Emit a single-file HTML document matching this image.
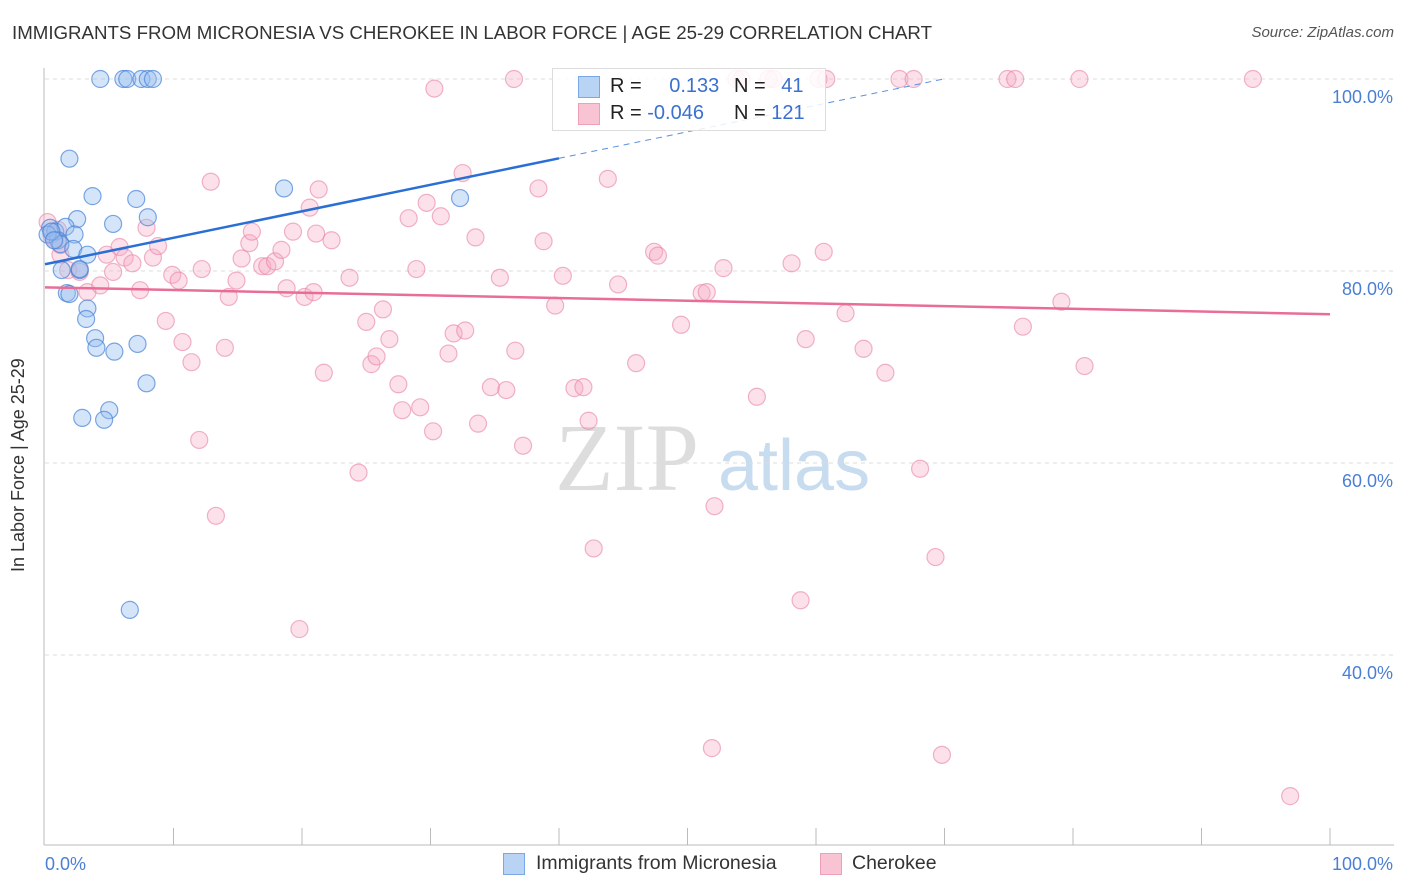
<!DOCTYPE html>
<html><head><meta charset="utf-8"><style>
body{margin:0;background:#fff;font-family:"Liberation Sans",sans-serif;}
#wrap{position:relative;width:1406px;height:892px;overflow:hidden;}
.t{position:absolute;white-space:nowrap;}
</style></head><body>
<div id="wrap">
<div class="t" style="left:12px;top:22px;font-size:18.7px;color:#333;">IMMIGRANTS FROM MICRONESIA VS CHEROKEE IN LABOR FORCE | AGE 25-29 CORRELATION CHART</div>
<div class="t" style="right:12px;top:24px;font-size:15px;color:#555;font-style:italic;">Source: ZipAtlas.com</div>
<div class="t" style="left:8px;top:572px;font-size:18px;color:#333;transform:rotate(-90deg);transform-origin:0 0;">In Labor Force | Age 25-29</div>
<svg id="svg" width="1406" height="892" style="position:absolute;left:0;top:0"></svg>
</div>
<script>
const blueX=[4.3,6.1,6.4,7.5,8.0,8.4,1.9,3.7,7.1,5.3,8.0,2.5,18.6,32.3,0.4,0.8,1.6,2.3,1.0,1.2,0.2,2.2,3.3,1.3,2.7,1.7,1.9,3.3,3.2,3.9,4.0,5.4,7.2,7.9,2.9,5.0,4.6,6.6,0.5,0.7,2.7];
const blueY=[100,100,100,100,100,100,91.7,87.8,87.5,84.9,85.6,85.4,88.6,87.6,84.5,84.1,84.6,83.8,83.2,82.8,83.8,82.3,81.7,80.1,80.1,77.7,77.6,76.1,75.0,73.0,72.0,71.6,72.4,68.3,64.7,65.5,64.5,44.7,84.1,83.2,80.2];
const pinkX=[0.2,0.8,1.2,1.8,2.7,3.3,4.3,4.8,5.3,5.8,6.2,6.8,7.4,7.9,8.4,8.8,9.4,9.9,10.4,10.7,11.4,12.0,12.2,12.9,13.3,14.0,14.3,14.9,15.3,15.9,16.1,16.9,17.3,17.9,18.4,18.8,19.3,19.8,20.2,20.6,20.9,21.1,21.3,21.7,22.3,23.7,24.4,25.0,25.4,25.8,26.3,26.8,27.5,27.8,28.3,28.9,29.2,29.7,30.2,30.8,31.4,31.8,32.5,32.7,33.5,33.7,34.7,35.4,35.9,36.5,36.6,37.2,38.4,38.8,39.7,40.3,41.2,41.9,42.3,42.7,43.8,44.6,46.0,47.4,47.7,49.5,51.1,51.5,51.9,52.1,52.8,53.8,54.2,55.4,56.3,56.7,58.1,58.8,59.2,60.2,60.6,60.8,62.3,63.7,65.4,66.5,67.6,68.1,69.3,69.8,74.9,75.5,76.1,79.1,80.5,80.9,94.0,96.9,30.3,1.2,0.5,1.0];
const pinkY=[85.1,83.2,81.7,80.1,79.9,77.8,78.5,81.7,79.9,82.5,81.4,80.8,78.0,84.5,81.4,82.6,74.8,79.6,79.0,72.6,70.5,62.4,80.2,89.3,54.5,72.0,77.3,79.0,81.3,82.9,84.1,80.5,80.5,81.0,82.2,78.2,84.1,42.7,77.3,86.6,77.8,83.9,88.5,69.4,83.2,79.3,59.0,74.7,70.3,71.1,76.0,72.9,68.2,65.5,85.5,80.2,65.8,87.1,63.3,85.7,71.4,73.5,90.2,73.8,83.5,64.1,67.9,79.3,67.6,100,71.7,61.8,88.6,83.1,76.4,79.5,67.8,67.9,64.4,51.1,89.6,78.6,70.4,82.0,81.6,74.4,77.7,77.8,30.3,55.5,80.3,100,100,66.9,100,100,80.8,45.7,72.9,100,82.0,100,75.6,71.9,69.4,100,100,59.4,50.2,29.6,100,100,74.2,76.8,100,70.1,100,25.3,99.0,82.7,83.8,84.3];
const yTicks=[100,80,60,40];
const yTickLabels=["100.0%","80.0%","60.0%","40.0%"];
const xTicks=[0,10,20,30,40,50,60,70,80,90,100];
const blueTrend=[80.7,0.276];
const pinkTrend=[78.3,-0.028];

const X=v=>45+v*12.85, Y=v=>1039-v*9.6;
const svg=document.getElementById('svg');const NS='http://www.w3.org/2000/svg';
function mk(tag,attrs,parent){const e=document.createElementNS(NS,tag);for(const k in attrs)e.setAttribute(k,attrs[k]);(parent||svg).appendChild(e);return e;}
let wm=mk('text',{x:555,y:490,'font-size':96,'font-family':'Liberation Serif,serif',fill:'#ddd'});wm.textContent='ZIP';

let wm2=mk('text',{x:718,y:490,'font-size':72,'font-family':'Liberation Sans,sans-serif',fill:'#c8dcf0'});wm2.textContent='atlas';

yTicks.forEach((t,i)=>{
 const g=mk('line',{x1:45,x2:1393,y1:Y(t),y2:Y(t),stroke:'#ddd','stroke-dasharray':'4,4'});
 
 const l=mk('text',{x:1393,y:Y(t)+24,'text-anchor':'end','font-size':18,fill:'#4a7fd4','font-family':'Liberation Sans,sans-serif'});
 l.textContent=yTickLabels[i];
 
});
let ax=mk('line',{x1:44,x2:44,y1:68,y2:845,stroke:'#bbb'});
let bx=mk('line',{x1:44,x2:1394,y1:845,y2:845,stroke:'#bbb'});
xTicks.forEach(t=>{if(t===0)return;const k=mk('line',{x1:X(t),x2:X(t),y1:828,y2:845,stroke:'#bbb'});
 });
let xl0=mk('text',{x:45,y:870,'font-size':18,fill:'#4a7fd4'});xl0.textContent='0.0%';
let xl1=mk('text',{x:1393,y:870,'text-anchor':'end','font-size':18,fill:'#4a7fd4'});xl1.textContent='100.0%';
pinkX.forEach((x,i)=>{const c=mk('circle',{cx:X(x),cy:Y(pinkY[i]),r:8.5,fill:'rgba(246,170,195,0.35)',stroke:'rgba(232,130,165,0.6)','stroke-width':1.2});
 });
blueX.forEach((x,i)=>{const c=mk('circle',{cx:X(x),cy:Y(blueY[i]),r:8.5,fill:'rgba(150,190,240,0.4)',stroke:'rgba(70,130,215,0.7)','stroke-width':1.2});
 });
let bt=mk('line',{x1:X(0),y1:Y(blueTrend[0]),x2:X(40),y2:Y(blueTrend[0]+40*blueTrend[1]),stroke:'#2a6fd6','stroke-width':2.5});

let bd=mk('line',{x1:X(40),y1:Y(blueTrend[0]+40*blueTrend[1]),x2:X(70),y2:Y(blueTrend[0]+70*blueTrend[1]),stroke:'#5a8fe0','stroke-width':1,'stroke-dasharray':'6,5'});

let pt=mk('line',{x1:X(0),y1:Y(pinkTrend[0]),x2:X(100),y2:Y(pinkTrend[0]+100*pinkTrend[1]),stroke:'#e86d98','stroke-width':2.5});

</script>
<div style="position:absolute;left:552px;top:68px;width:272px;height:61px;border:1px solid #ddd;background:rgba(255,255,255,0.85);font-size:20px;color:#222;">
 <div style="position:absolute;left:25px;top:7px;width:20px;height:20px;background:#b8d3f4;border:1px solid #7aa8e6;"></div>
 <div class="t" style="left:57px;top:6px;">R = <span style="color:#3a70d0;margin-left:22px">0.133</span></div>
 <div class="t" style="left:181px;top:6px;">N = <span style="color:#3a70d0;margin-left:10px">41</span></div>
 <div style="position:absolute;left:25px;top:34px;width:20px;height:20px;background:#f8c4d4;border:1px solid #eea0b8;"></div>
 <div class="t" style="left:57px;top:33px;">R = <span style="color:#3a70d0">-0.046</span></div>
 <div class="t" style="left:181px;top:33px;">N = <span style="color:#3a70d0">121</span></div>
</div>
<div style="position:absolute;left:503px;top:853px;width:20px;height:20px;background:#b8d3f4;border:1px solid #7aa8e6;"></div>
<div class="t" style="left:536px;top:852px;font-size:19.5px;color:#333;">Immigrants from Micronesia</div>
<div style="position:absolute;left:820px;top:853px;width:20px;height:20px;background:#f8c4d4;border:1px solid #eea0b8;"></div>
<div class="t" style="left:852px;top:852px;font-size:19.5px;color:#333;">Cherokee</div>
</body></html>
